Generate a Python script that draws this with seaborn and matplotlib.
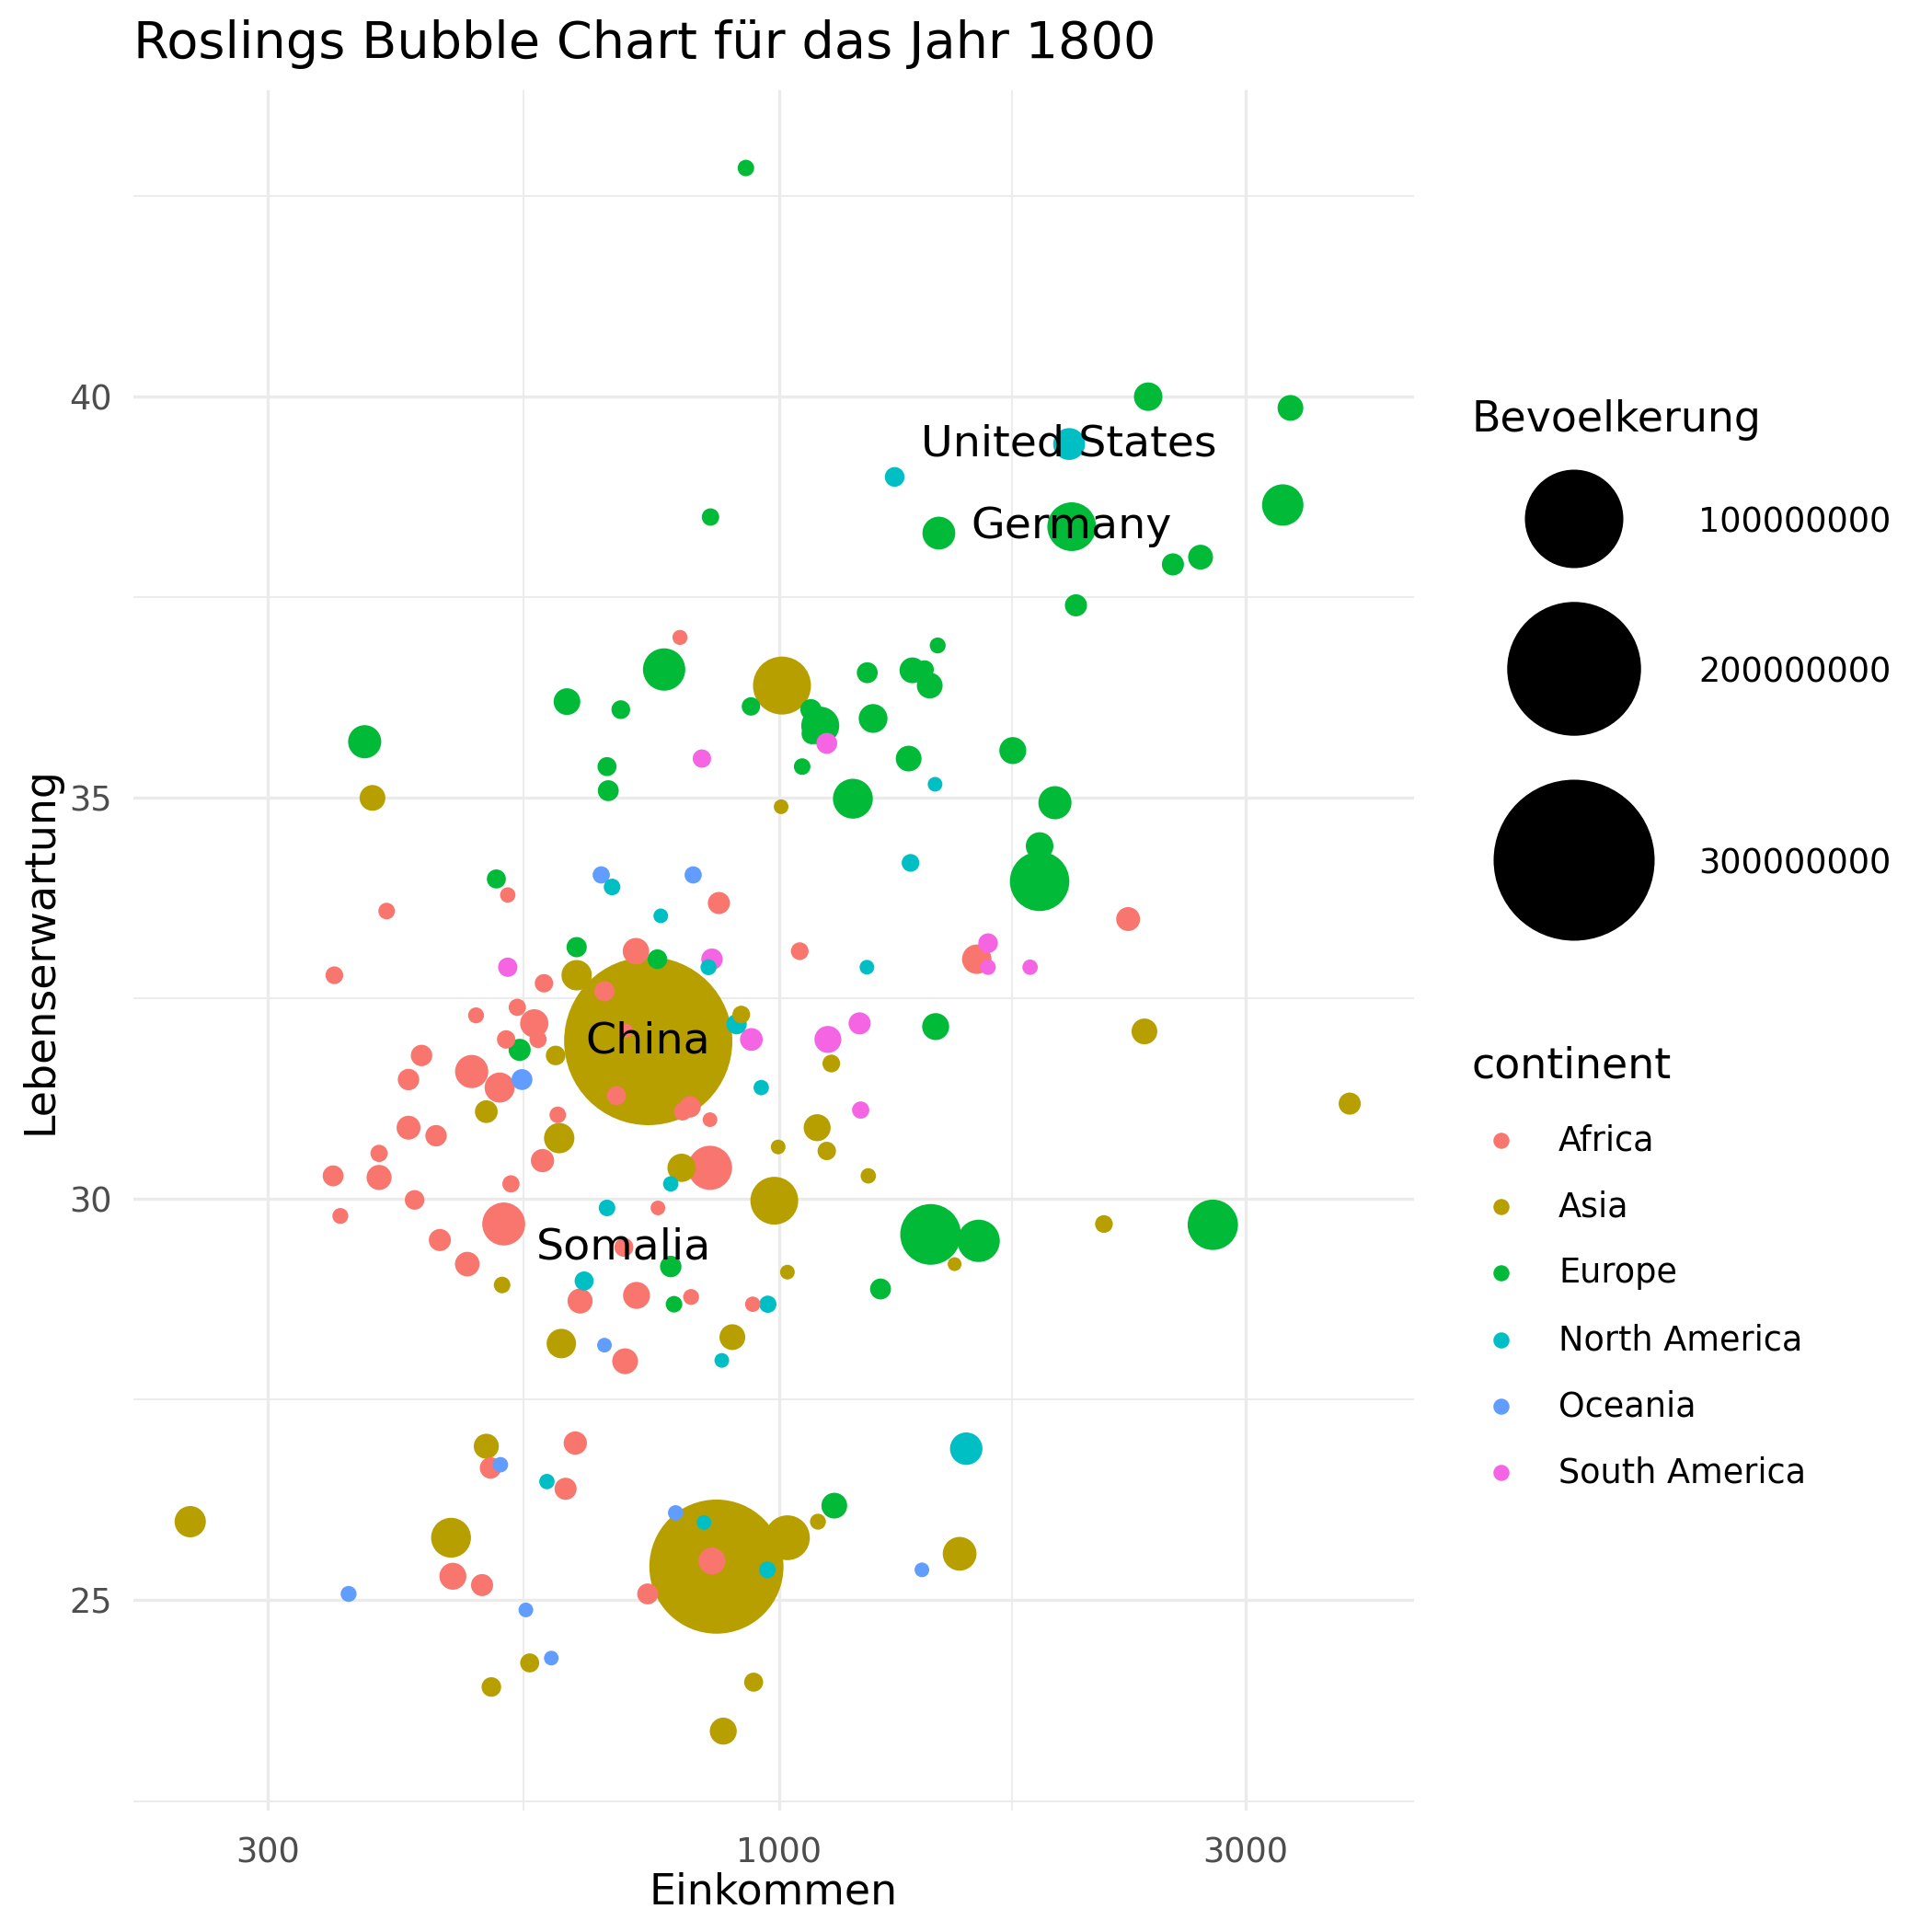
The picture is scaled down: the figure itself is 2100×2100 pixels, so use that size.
import matplotlib
matplotlib.use("Agg")
import matplotlib.pyplot as plt
from matplotlib.ticker import NullFormatter
import seaborn as sns
import pandas as pd
import numpy as np

sns.set_style("white")
plt.rcParams["font.family"] = ["DejaVu Sans"]
plt.rcParams["text.color"] = "black"
plt.rcParams["axes.labelcolor"] = "black"

# Kontinente und ggplot-Standardfarben
KONTINENTE = ["Africa", "Asia", "Europe", "North America", "Oceania", "South America"]
FARBEN = ["#F8766D", "#B79F00", "#00BA38", "#00BFC4", "#619CFF", "#F564E3"]

# Werte (Einkommen, Lebenserwartung, Bevoelkerung in Mio.)
AFRICA_EINKOMMEN = [792, 528, 397, 351, 575, 540, 490, 562, 526, 567, 431, 485, 418, 518, 418, 446,
                    868, 714, 1050, 1593, 663, 697, 682, 811, 797, 850, 2275, 594, 390, 350, 390, 424,
                    356, 532, 573, 523, 450, 480, 507, 605, 619, 464, 497, 850, 752, 694, 626, 715,
                    813, 940, 696, 854, 734]
AFRICA_LEBEN = [37.0, 33.79, 33.59, 32.79, 32.69, 32.39, 32.29, 32.19, 31.99, 31.99, 31.79, 31.59,
                31.49, 31.39, 30.89, 30.79, 33.69, 33.09, 33.09, 32.99, 32.59, 32.1, 31.29, 31.15,
                31.09, 30.99, 33.49, 31.05, 30.57, 30.29, 30.27, 29.99, 29.79, 30.19, 30.48, 29.69,
                29.49, 29.19, 26.65, 26.39, 26.96, 25.30, 25.19, 30.39, 29.89, 29.40, 28.73, 28.80,
                28.78, 28.69, 27.98, 25.49, 25.08]
AFRICA_POP = [0.06, 0.08, 0.18, 0.31, 0.40, 0.25, 0.12, 3.2, 0.40, 0.25, 0.98, 5.6, 0.98, 4.0, 1.64,
              0.98, 1.14, 2.47, 0.31, 3.71, 0.72, 0.02, 0.5, 0.98, 0.31, 0.04, 1.64, 0.18, 0.25, 0.86,
              2.0, 0.6, 0.12, 0.25, 1.45, 12.3, 1.14, 1.84, 0.98, 1.14, 1.45, 2.68, 1.14, 13.3, 0.04,
              0.5, 2.0, 2.68, 0.12, 0.08, 2.24, 2.68, 0.86]

ASIA_EINKOMMEN = [1007, 384, 591, 502, 1005, 621, 735, 915, 1131, 1094, 2364, 3833, 596, 521, 599,
                  502, 250, 462, 795, 998, 1119, 1234, 989, 1020, 1512, 896, 1096, 1020, 863, 1530,
                  2149, 556, 508, 942, 877]
ASIA_LEBEN = [36.4, 35.0, 31.79, 31.09, 34.89, 32.79, 31.97, 32.30, 31.69, 30.89, 32.09, 31.19,
              30.76, 28.93, 28.2, 26.92, 25.98, 25.78, 30.39, 30.65, 30.6, 30.29, 29.98, 29.09,
              29.19, 28.28, 25.98, 25.78, 25.42, 25.58, 29.69, 24.22, 23.92, 23.98, 23.37]
ASIA_POP = [27.7, 2.24, 0.6, 1.3, 0.04, 4.14, 330, 0.31, 0.31, 2.68, 2.24, 1.14, 4.14, 0.18, 3.71,
            2.0, 4.59, 9.9, 3.2, 0.04, 0.4, 0.08, 16.6, 0.04, 0.01, 2.24, 0.12, 13.9, 201, 5.9,
            0.31, 0.5, 0.6, 0.5, 2.68]

EUROPE_EINKOMMEN = [925, 851, 763, 607, 689, 936, 377, 2385, 3334, 1457, 1992, 3274, 2528, 2698,
                    2012, 1453, 1231, 1369, 1409, 1426, 1078, 1102, 1081, 1056, 1248, 1357, 1190,
                    667, 669, 621, 751, 1446, 514, 543, 1734, 1915, 1847, 1847, 775, 781, 1429,
                    1600, 1270, 1139, 2777]
EUROPE_LEBEN = [42.85, 38.5, 36.6, 36.2, 36.1, 36.14, 35.70, 40.0, 39.86, 38.3, 38.38, 38.65,
                37.91, 38.0, 37.4, 36.9, 36.56, 36.59, 36.6, 36.40, 36.10, 35.90, 35.8, 35.39,
                35.99, 35.49, 34.99, 35.39, 35.09, 33.14, 32.99, 32.15, 33.99, 31.86, 35.59,
                34.94, 34.40, 33.96, 29.16, 28.69, 29.56, 29.48, 28.88, 26.18, 29.68]
EUROPE_POP = [0.17, 0.27, 11.8, 2.57, 0.45, 0.4, 5.56, 3.3, 2.24, 5.4, 17.5, 11.06, 1.14, 1.93,
              1.14, 0.12, 0.86, 2.24, 0.4, 2.24, 0.9, 8.57, 0.9, 0.18, 3.43, 2.24, 9.9, 0.5, 0.86,
              0.72, 0.6, 2.68, 0.5, 1.14, 2.68, 5.56, 2.93, 29.6, 0.98, 0.18, 31.2, 11.8, 0.86,
              2.24, 19.1]

NAMERICA_EINKOMMEN = [1980, 1313, 1444, 1363, 675, 757, 847, 1230, 905, 959, 579, 775, 667, 632,
                      974, 874, 1554, 838, 973]
NAMERICA_LEBEN = [39.41, 39.0, 35.17, 34.19, 33.89, 33.53, 32.89, 32.89, 32.18, 31.39, 26.48,
                  30.19, 29.89, 28.98, 28.69, 27.99, 26.89, 25.97, 25.38]
NAMERICA_POP = [4.9, 0.62, 0.04, 0.31, 0.18, 0.04, 0.12, 0.04, 0.72, 0.08, 0.08, 0.08, 0.18, 0.5,
                0.25, 0.04, 5.2, 0.04, 0.18]

OCEANIA_EINKOMMEN = [658, 817, 546, 519, 663, 784, 1400, 363, 551, 585]
OCEANIA_LEBEN = [34.04, 34.04, 31.49, 26.69, 28.18, 26.09, 25.38, 25.08, 24.88, 24.28]
OCEANIA_POP = [0.25, 0.25, 0.86, 0.08, 0.04, 0.08, 0.04, 0.12, 0.04, 0.04]

SAMERICA_EINKOMMEN = [528, 834, 1119, 854, 1636, 1636, 937, 1209, 1122, 1212, 1806]
SAMERICA_LEBEN = [32.89, 35.49, 35.68, 32.99, 33.19, 32.89, 31.99, 32.19, 31.99, 31.11, 32.89]
SAMERICA_POP = [0.55, 0.4, 0.86, 0.98, 0.6, 0.08, 1.3, 1.14, 2.68, 0.25, 0.08]

# beschriftete Laender
LABEL_LAENDER = ["United States", "Germany", "China", "Somalia"]
LABEL_EINKOMMEN = [1980, 1992, 735, 694]
LABEL_LEBEN = [39.41, 38.38, 31.97, 29.40]

# Legende Bevoelkerung
POP_BREAKS = [100, 200, 300]  # Mio.


def groesse(pop_mio):
    """Markerflaeche (pt^2), Durchmesser waechst mit sqrt(Bevoelkerung)."""
    d = 0.24 * (14.1 + 9.29 * np.sqrt(np.asarray(pop_mio, dtype=float)))
    return d ** 2


teile = []
for name, e, l, p in [
    ("Africa", AFRICA_EINKOMMEN, AFRICA_LEBEN, AFRICA_POP),
    ("Asia", ASIA_EINKOMMEN, ASIA_LEBEN, ASIA_POP),
    ("Europe", EUROPE_EINKOMMEN, EUROPE_LEBEN, EUROPE_POP),
    ("North America", NAMERICA_EINKOMMEN, NAMERICA_LEBEN, NAMERICA_POP),
    ("Oceania", OCEANIA_EINKOMMEN, OCEANIA_LEBEN, OCEANIA_POP),
    ("South America", SAMERICA_EINKOMMEN, SAMERICA_LEBEN, SAMERICA_POP),
]:
    teile.append(pd.DataFrame({"continent": name, "Einkommen": e,
                               "Lebenserwartung": l, "Bevoelkerung": np.array(p) * 1e6}))
df = pd.concat(teile).sort_values("Bevoelkerung", ascending=False).reset_index(drop=True)

W = 2100.0
fig = plt.figure(figsize=(7, 7), dpi=300)
ax = fig.add_axes([145 / W, 1 - 1968 / W, (1537 - 145) / W, (1968 - 98) / W])

sns.scatterplot(data=df, x="Einkommen", y="Lebenserwartung", hue="continent",
                hue_order=KONTINENTE, palette=FARBEN,
                s=groesse(df["Bevoelkerung"].to_numpy() / 1e6),
                linewidth=0, legend=False, ax=ax, zorder=3)

ax.set_xscale("log")
ax.set_xlim(218.7, 4460)
ax.set_ylim(22.38, 43.82)
ax.set_xticks([300, 1000, 3000], labels=["300", "1000", "3000"])
ax.set_xticks([np.sqrt(300 * 1000), np.sqrt(1000 * 3000)], minor=True)
ax.xaxis.set_minor_formatter(NullFormatter())
ax.set_yticks([25, 30, 35, 40])
ax.set_yticks([22.5, 27.5, 32.5, 37.5, 42.5], minor=True)

ax.grid(True, which="major", color="#EBEBEB", linewidth=0.8)
ax.grid(True, which="minor", color="#EBEBEB", linewidth=0.45)
ax.set_axisbelow(True)
for sp in ax.spines.values():
    sp.set_visible(False)
ax.tick_params(which="both", length=0, labelsize=8.8, labelcolor="#4D4D4D")
ax.tick_params(axis="x", pad=6.5)
ax.tick_params(axis="y", pad=5.5)

ax.set_xlabel("Einkommen", fontsize=11, va="center", color="black")
ax.xaxis.set_label_coords(0.5, (1968 - 2057) / 1870)
ax.set_ylabel("Lebenserwartung", fontsize=11, va="center", color="black")
ax.yaxis.set_label_coords((44 - 145) / 1392, 0.5)

for name, e, l in zip(LABEL_LAENDER, LABEL_EINKOMMEN, LABEL_LEBEN):
    ax.text(e, l, name, fontsize=11.4, ha="center", va="center", color="black", zorder=5)

fig.text(145 / W, 1 - 63 / W, "Roslings Bubble Chart für das Jahr 1800",
         fontsize=13.4, ha="left", va="baseline", color="black")

# Legenden (Pixel-Koordinaten)
lax = fig.add_axes([0, 0, 1, 1])
lax.set_xlim(0, W)
lax.set_ylim(W, 0)
lax.axis("off")

lax.text(1599, 469, "Bevoelkerung", fontsize=11, va="baseline", color="black")
key_y = [564, 727, 935]
lax.scatter([1711] * len(POP_BREAKS), key_y, s=groesse(POP_BREAKS), color="black", linewidth=0)
for b, y in zip(POP_BREAKS, key_y):
    lax.text(1846, y + 4, str(int(b * 1_000_000)), fontsize=8.8, va="center", color="black")

lax.text(1599, 1172, "continent", fontsize=11, va="baseline", color="black")
dot_y = [1240, 1312, 1384, 1457, 1529, 1601]
lax.scatter([1632] * len(KONTINENTE), dot_y, s=(0.24 * 17.5) ** 2, c=FARBEN, linewidth=0)
for k, y in zip(KONTINENTE, dot_y):
    lax.text(1694, y, k, fontsize=8.8, va="center", color="black")

fig.savefig("out.png", dpi=300)
